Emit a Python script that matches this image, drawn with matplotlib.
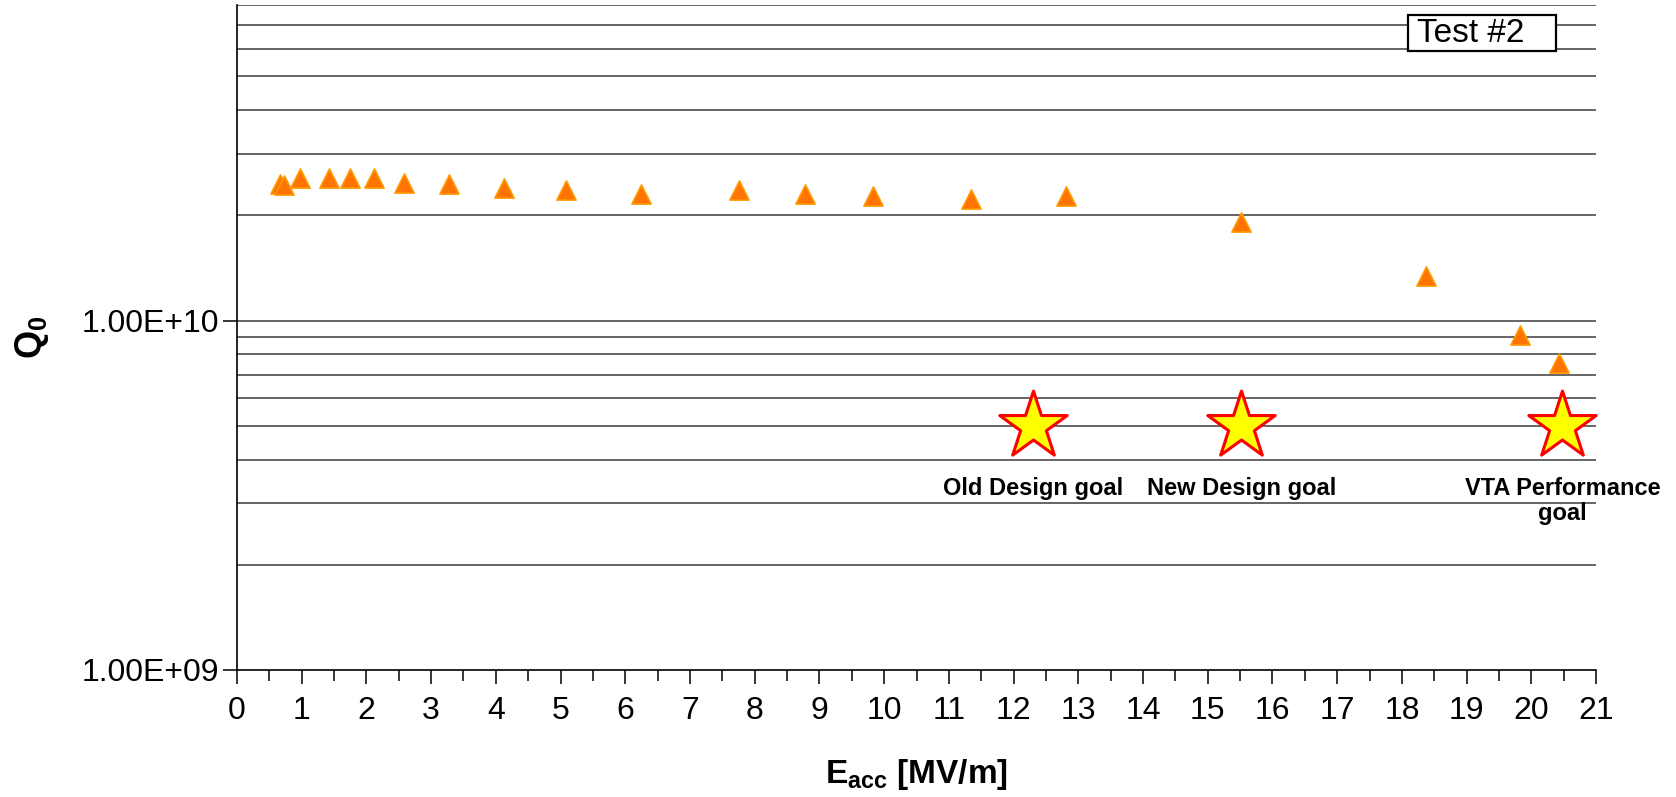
import numpy as np
import matplotlib.pyplot as plt
import matplotlib.patches as patches
from matplotlib.ticker import FixedLocator, MultipleLocator, NullLocator

plt.rcParams['font.family'] = ['Liberation Sans', 'DejaVu Sans']
plt.rcParams['mathtext.fontset'] = 'custom'
plt.rcParams['mathtext.rm'] = 'Liberation Sans'
plt.rcParams['mathtext.bf'] = 'Liberation Sans:bold'

# measured Q0 vs Eacc, test #2
eacc = [0.66, 0.73, 0.98, 1.42, 1.74, 2.12, 2.58, 3.27, 4.13, 5.09, 6.25,
        7.75, 8.78, 9.83, 11.34, 12.81, 15.52, 18.38, 19.82, 20.43]
q0 = [2.46e10, 2.44e10, 2.56e10, 2.56e10, 2.56e10, 2.56e10, 2.47e10, 2.46e10,
      2.39e10, 2.36e10, 2.31e10, 2.36e10, 2.31e10, 2.27e10, 2.23e10, 2.27e10,
      1.91e10, 1.34e10, 9.1e9, 7.55e9]

# goals
goal_eacc = [12.3, 15.52, 20.48]
goal_q0 = [5e9, 5e9, 5e9]
goal_labels = ["Old Design goal", "New Design goal", "VTA Performance\ngoal"]

fig = plt.figure(figsize=(16.76, 7.97), dpi=100)
ax = fig.add_axes([0.1414, 0.1594, 0.9523 - 0.1414, 0.9937 - 0.1594])

ax.set_yscale('log')
ax.set_xlim(0, 21)
ax.set_ylim(1e9, 8e10)

grid_vals = [k * 1e9 for k in range(2, 10)] + [k * 1e10 for k in range(1, 9)]
for g in grid_vals:
  ax.axhline(g, color='#3a3a3a', lw=1.1, zorder=1)

ax.scatter(eacc, q0, marker='^', s=190, color='#FF7300', edgecolors='#FF9A00',
           linewidths=1.2, zorder=3)
ax.scatter(goal_eacc, goal_q0, marker='*', s=2600, color='#FFFF00',
           edgecolors='#FF0000', linewidths=2.2, zorder=3, clip_on=False)

for xg, lab in zip(goal_eacc, goal_labels):
  ax.annotate(lab, xy=(xg, 5e9), xytext=(0, -37), textcoords='offset points',
              ha='center', va='top', fontsize=17, fontweight='bold',
              linespacing=1.1)

for s in ['top', 'right']:
  ax.spines[s].set_visible(False)
ax.spines['left'].set_linewidth(1.2)
ax.spines['bottom'].set_linewidth(1.2)

ax.xaxis.set_major_locator(MultipleLocator(1))
ax.xaxis.set_minor_locator(MultipleLocator(0.5))
ax.tick_params(axis='x', which='major', length=10, width=1.1, labelsize=23, pad=9)
ax.tick_params(axis='x', which='minor', length=8, width=1.1)

ax.yaxis.set_major_locator(FixedLocator([1e9, 1e10]))
ax.yaxis.set_minor_locator(NullLocator())
ax.set_yticklabels(["1.00E+09", "1.00E+10"])
ax.tick_params(axis='y', which='major', length=10, width=1.1, labelsize=23, pad=3)

ax.set_xlabel(r"E$_\mathbf{acc}$ [MV/m]", fontsize=24, fontweight='bold', labelpad=22)
ax.set_ylabel(r"Q$_\mathbf{0}$", fontsize=26, fontweight='bold', labelpad=22)

box = patches.Rectangle((0.8617, 0.931), 0.1089, 0.054, transform=ax.transAxes,
                        fc='white', ec='black', lw=1.6, zorder=4)
ax.add_patch(box)
ax.text(0.8680, 0.957, "Test #2", transform=ax.transAxes, fontsize=24,
        ha='left', va='center', zorder=5)

fig.savefig("out.png", dpi=100)
